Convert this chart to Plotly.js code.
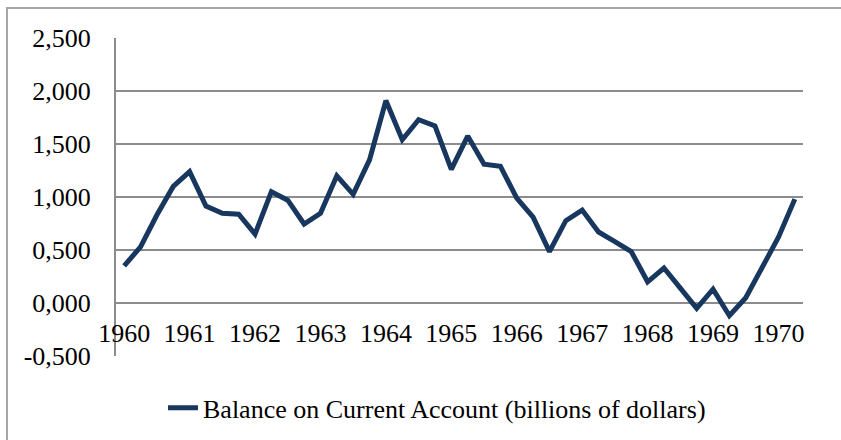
<!DOCTYPE html>
<html>
<head>
<meta charset="utf-8">
<script src="https://cdn.plot.ly/plotly-3.0.1.min.js"></script>
<style>html,body{margin:0;padding:0;background:#fff;}#chart{width:841px;height:440px;}</style>
</head>
<body>
<div id="chart"></div>
<script>
// Quarterly values, 1960 Q1 to 1970 Q2
var quarterIndex = [0,1,2,3,4,5,6,7,8,9,10,11,12,13,14,15,16,17,18,19,20,21,22,23,24,25,26,27,28,29,30,31,32,33,34,35,36,37,38,39,40,41];
var balance = [0.35,0.53,0.83,1.10,1.24,0.915,0.846,0.837,0.65,1.05,0.97,0.745,
               0.846,1.20,1.025,1.35,1.91,1.54,1.73,1.67,1.26,1.575,1.31,1.29,
               0.99,0.81,0.485,0.777,0.877,0.67,0.58,0.485,0.20,0.33,0.14,-0.05,
               0.13,-0.12,0.05,0.34,0.62,0.98];
var yearTickPos = [0,4,8,12,16,20,24,28,32,36,40];
var yearLabels = ["1960","1961","1962","1963","1964","1965","1966","1967","1968","1969","1970"];
var yTickVals = [-0.5,0,0.5,1,1.5,2,2.5];
var yTickText = ["-0,500","0,000","0,500","1,000","1,500","2,000","2,500"];
var seriesName = "Balance on Current Account (billions of dollars)";

var FAM = "Liberation Serif";
var FS = 26;
var gridCol = "#8c8c8c";

var trace = {
  x: quarterIndex, y: balance, type: "scatter", mode: "lines", name: seriesName,
  line: {color: "#17375e", width: 5, shape: "linear"},
  hoverinfo: "skip"
};

var layout = {
  width: 841, height: 440,
  margin: {l: 116, r: 38, t: 38, b: 84},
  paper_bgcolor: "#fff", plot_bgcolor: "#fff",
  font: {family: FAM, size: FS, color: "#000000"},
  showlegend: true,
  legend: {orientation: "h", xref: "container", yref: "container", x: 163 / 841, y: 0.073,
           xanchor: "left", yanchor: "middle",
           font: {family: FAM, size: FS, color: "#000000"}, bgcolor: "rgba(0,0,0,0)"},
  xaxis: {
    range: [-0.5, 41.5], tickmode: "array", tickvals: yearTickPos, ticktext: yearLabels,
    showgrid: false, zeroline: false, showline: false, ticks: "",
    anchor: "free", position: 1/6, ticklabelstandoff: 12,
    tickfont: {family: FAM, size: FS, color: "#000000"}, fixedrange: true
  },
  yaxis: {
    range: [-0.5, 2.5], tickmode: "array", tickvals: yTickVals, ticktext: yTickText,
    showgrid: true, gridcolor: gridCol, gridwidth: 2, zeroline: false,
    showline: true, linecolor: gridCol, linewidth: 2, ticks: "",
    ticklabelstandoff: 18, tickfont: {family: FAM, size: FS, color: "#000000"}, fixedrange: true
  },
  shapes: [{
    type: "rect", xref: "paper", yref: "paper",
    x0: (7 - 116) / 687, x1: 2, y0: -1, y1: (356 - 8) / 318,
    line: {color: "#a6a6a6", width: 2}, fillcolor: "rgba(0,0,0,0)", layer: "below"
  }]
};

Plotly.newPlot("chart", [trace], layout, {displayModeBar: false, staticPlot: true});
</script>
</body>
</html>
